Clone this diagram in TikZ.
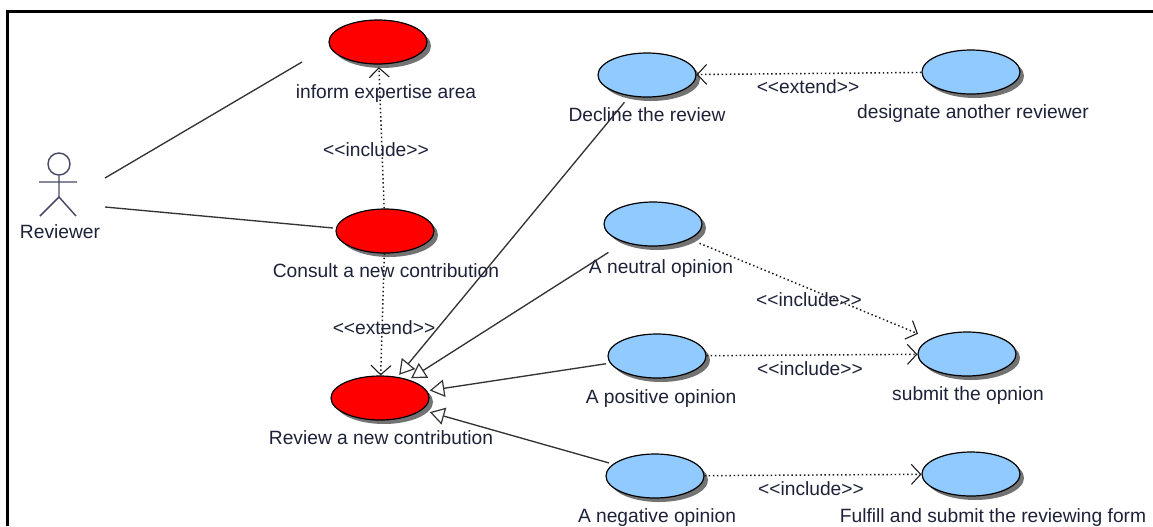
\documentclass[tikz,border=0pt]{standalone}
\usepackage{fontspec}
\setmainfont{Liberation Sans}
\usetikzlibrary{arrows.meta,shapes.geometric,shadows}
\definecolor{caseblue}{HTML}{90CAFF}
\definecolor{casered}{HTML}{FF0000}
\definecolor{inkc}{HTML}{1E2238}
\definecolor{actorc}{HTML}{4A4A68}
\tikzset{
 usecase/.style={ellipse,draw=black,line width=0.9pt,minimum width=73.5pt,minimum height=33pt,inner sep=0pt,
   drop shadow={shadow xshift=3pt,shadow yshift=-3pt,fill=black!55,opacity=1}},
 redcase/.style={usecase,fill=casered},
 bluecase/.style={usecase,fill=caseblue},
 lbl/.style={text=inkc,font=\fontsize{14.4}{16}\selectfont,inner sep=0pt,text height=10.5pt,text depth=3pt,yshift=-1.5pt},
 assoc/.style={draw=black!80,line width=1pt},
 gen/.style={assoc,-{Triangle[open,length=11pt,width=13pt,line width=0.9pt]},shorten <=3pt,shorten >=2pt},
 dep/.style={draw=black!90,line width=1.1pt,dotted,-{Straight Barb[length=7pt,width=15pt,line width=0.8pt]}},
 actorline/.style={draw=actorc,line width=1.1pt}
}
\begin{document}
\begin{tikzpicture}[x=0.75pt,y=-0.75pt]
\useasboundingbox (0,0) rectangle (1153,526);
\fill[white] (0,0) rectangle (1153,526);
\draw[black,line width=1.6pt] (7.5,526) -- (7.5,11.5) -- (1153,11.5);
% use cases
\node[redcase] (inform) at (378,42) {};
\node[redcase] (consult) at (385,231) {};
\node[redcase] (review) at (380,398) {};
\node[bluecase] (decline) at (647,75) {};
\node[bluecase] (neutral) at (653,224) {};
\node[bluecase] (positive) at (657,356) {};
\node[bluecase] (negative) at (655,476) {};
\node[bluecase] (designate) at (971,72) {};
\node[bluecase] (submit) at (967,354) {};
\node[bluecase] (fulfill) at (971,474) {};
% actor
\node[circle,draw=actorc,line width=1.1pt,minimum size=16.5pt,inner sep=0pt] (head) at (59,164) {};
\coordinate (hip) at (59,197);
\coordinate (armL) at (39,182);
\coordinate (armR) at (77,182);
\coordinate (legL) at (40,216);
\coordinate (legR) at (76,216);
\draw[actorline] (head) -- (hip) (armL) -- (armR) (legL) -- (hip) -- (legR);
% associations
\coordinate (a1) at (105,178);
\coordinate (a2) at (302,62);
\coordinate (a3) at (105,207);
\coordinate (a4) at (333,228);
\draw[assoc] (a1) -- (a2);
\draw[assoc] (a3) -- (a4);
% generalisations
\draw[gen,shorten <=6pt] (decline) -- (review);
\draw[gen,shorten <=14pt] (neutral) -- (review);
\draw[gen] (positive) -- (review);
\draw[gen,shorten >=6pt] (negative) -- (review);
% dependencies
\draw[dep,shorten >=2pt] (consult) -- (inform);
\draw[dep] (consult) -- (review);
\draw[dep] (designate) -- (decline);
\draw[dep,shorten <=8pt,shorten >=10pt] (neutral) -- (submit);
\draw[dep] (positive) -- (submit);
\draw[dep] (negative) -- (fulfill);
% labels
\node[lbl] (lReviewer) at (60,231) {Reviewer};
\node[lbl] (l1) at (386,91) {inform expertise area};
\node[lbl] (l2) at (386,270) {Consult a new contribution};
\node[lbl] (l3) at (381,437) {Review a new contribution};
\node[lbl] (l4) at (647,114) {Decline the review};
\node[lbl] (l5) at (661,266) {A neutral opinion};
\node[lbl] (l6) at (661,396) {A positive opinion};
\node[lbl] (l7) at (657,515) {A negative opinion};
\node[lbl] (l8) at (973,111) {designate another reviewer};
\node[lbl] (l9) at (968,393) {submit the opnion};
\node[lbl] (l10) at (993,515) {Fulfill and submit the reviewing form};
\node[lbl] (e1) at (808,86) {<{}<extend>{}>};
\node[lbl] (e2) at (384,327) {<{}<extend>{}>};
\node[lbl] (i1) at (376,149) {<{}<include>{}>};
\node[lbl] (i2) at (809,299) {<{}<include>{}>};
\node[lbl] (i3) at (810,368) {<{}<include>{}>};
\node[lbl] (i4) at (811,488) {<{}<include>{}>};
\end{tikzpicture}
\end{document}
